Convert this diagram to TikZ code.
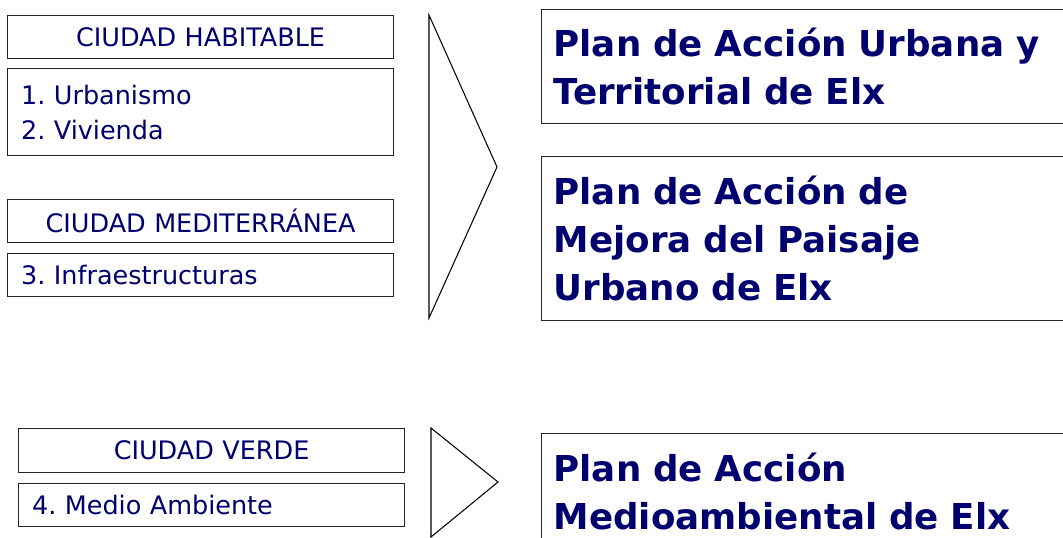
\documentclass[tikz,border=0pt]{standalone}
\usepackage{fontspec}
\setmainfont{DejaVu Sans}
\frenchspacing
\definecolor{cityblue}{RGB}{0,0,110}
\definecolor{boxline}{RGB}{35,35,35}
\tikzset{
	cityhead/.style={rectangle, draw=boxline, line width=0.7pt, anchor=north west, minimum width=7.72cm, minimum height=0.86cm, text width=7.18cm, inner xsep=0.27cm, align=center, text=cityblue, font=\fontsize{14.5}{19.8}\selectfont},
	cityitem/.style={cityhead, align=left},
	planbox/.style={rectangle, draw=boxline, line width=0.7pt, anchor=north west, text width=11cm, inner xsep=0.24cm, align=left, text=cityblue, font=\fontsize{20.3}{27.2}\selectfont\bfseries},
	chevron/.style={draw=black, line width=0.6pt, line join=miter}
}
\begin{document}
\begin{tikzpicture}[x=0.02cm, y=-0.02cm]
		
		\path[use as bounding box, clip] (0,0) rectangle (1063,538);
		
		% Ciudad habitable y mediterranea
		\node (habitable) at (7,15) [cityhead]{CIUDAD HABITABLE};
		\node (urbanismo) at (7,68) [cityitem, minimum height=1.74cm]{1. Urbanismo\\2. Vivienda};
		\node (mediterranea) at (7,199) [cityhead]{CIUDAD MEDITERRÁNEA};
		\node (infra) at (7,253) [cityitem]{3. Infraestructuras};
		
		% Ciudad verde
		\node (verde) at (18,428) [cityhead, minimum height=0.88cm]{CIUDAD VERDE};
		\node (medio) at (18,483) [cityitem]{4. Medio Ambiente};
		
		% Arrows towards the plans
		\draw[chevron] (429,15) -- (497,167) -- (429,318) -- cycle;
		\draw[chevron] (431,428) -- (498,482) -- (431,537) -- cycle;
		
		% Plans
		\node (planUrbana) at (541,9) [planbox, minimum height=2.28cm]{Plan de Acción Urbana y\\Territorial de Elx};
		\node (planPaisaje) at (541,156) [planbox, minimum height=3.28cm]{Plan de Acción de\\Mejora del Paisaje\\Urbano de Elx};
		\node (planMedio) at (541,433) [planbox, minimum height=2.32cm]{Plan de Acción\\Medioambiental de Elx};
		
		\end{tikzpicture}
\end{document}
